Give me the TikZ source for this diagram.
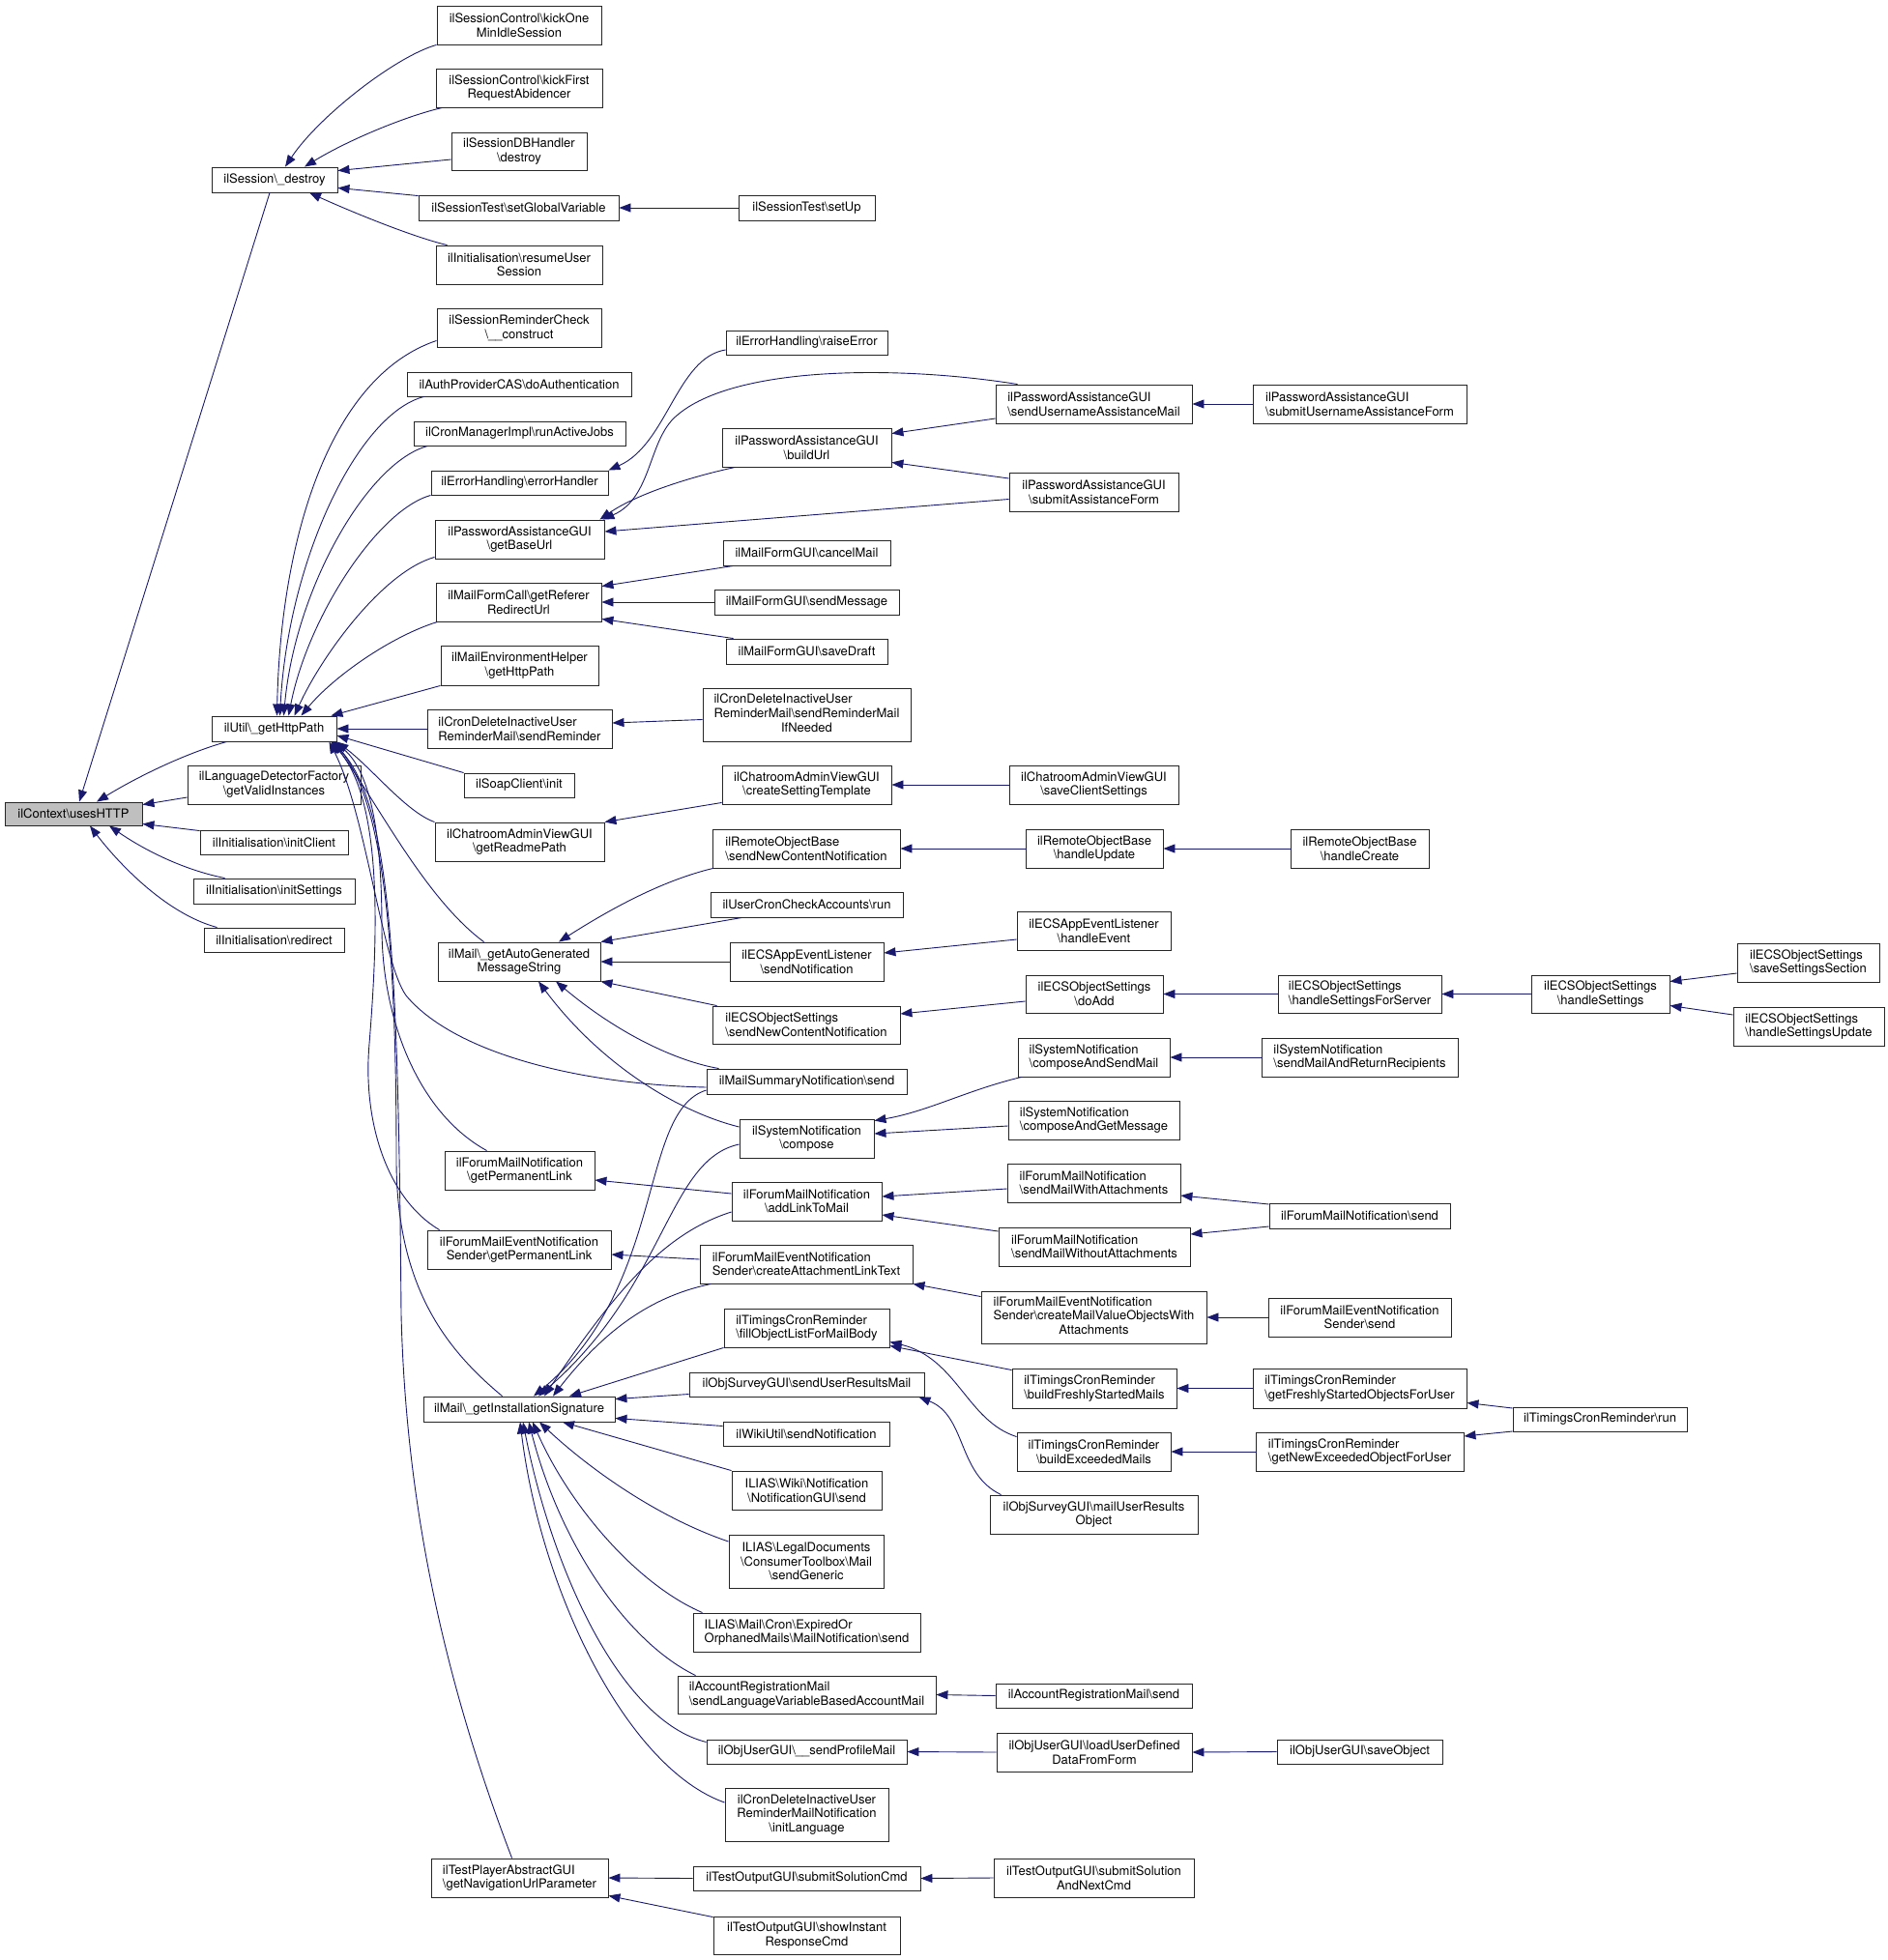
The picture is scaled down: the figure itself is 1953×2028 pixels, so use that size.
\documentclass[tikz,border=0pt]{standalone}
\usepackage{fontspec}
\setmainfont{TeX Gyre Heros}
\usetikzlibrary{arrows.meta,calc}
\definecolor{edgeblue}{HTML}{191970}
\definecolor{ctxgray}{HTML}{BFBFBF}
\newcommand\BS{\textbackslash}
\newcommand\nd[7]{%
  \pgfmathsetmacro\ndw{#4-#2}%
  \pgfmathsetmacro\ndh{#5-#3}%
  \pgfmathsetmacro\ndx{(#2+#4)/2}%
  \pgfmathsetmacro\ndy{(#3+#5)/2}%
  \node[bx,minimum width=\ndw pt,minimum height=\ndh pt,align=#6] (#1) at (\ndx,\ndy) {#7};%
}
\begin{document}
\begin{tikzpicture}[x=1pt,y=-1pt,
  bx/.style={draw=black!85,line width=0.9pt,rectangle,inner sep=0pt,fill=white,text=black,font=\fontsize{13}{14.7}\selectfont},
  e/.style={draw=edgeblue,line width=0.9pt,-{Triangle[length=12pt,width=9pt]}}]
\useasboundingbox (0,0) rectangle (1953,2028);
\fill[white] (0,0) rectangle (1953,2028);
% column 0/1
\nd{ctx}{5}{830}{147}{854}{center,fill=ctxgray}{ilContext\BS usesHTTP}
\nd{sd}{219}{173}{349}{199}{center}{ilSession\BS\_destroy}
\nd{hp}{219}{741}{348}{767}{center}{ilUtil\BS\_getHttpPath}
\nd{ldf}{194}{792}{373}{832}{center}{ilLanguageDetectorFactory\\\BS getValidInstances}
\nd{ic}{207}{859}{360}{884}{center}{ilInitialisation\BS initClient}
\nd{is}{200}{909}{367}{935}{center}{ilInitialisation\BS initSettings}
\nd{rd}{211}{960}{356}{985}{center}{ilInitialisation\BS redirect}
% column 2
\nd{k1}{452}{6}{622}{46}{center}{ilSessionControl\BS kickOne\\MinIdleSession}
\nd{k2}{451}{71}{623}{111}{center}{ilSessionControl\BS kickFirst\\RequestAbidencer}
\nd{dbh}{467}{137}{607}{176}{center}{ilSessionDBHandler\\\BS destroy}
\nd{sgv}{433}{202}{640}{228}{center}{ilSessionTest\BS setGlobalVariable}
\nd{rus}{451}{254}{623}{294}{center}{ilInitialisation\BS resumeUser\\Session}
\nd{src}{452}{319}{622}{359}{center}{ilSessionReminderCheck\\\BS\_\_construct}
\nd{cas}{421}{385}{653}{410}{center}{ilAuthProviderCAS\BS doAuthentication}
\nd{cmi}{428}{436}{647}{461}{center}{ilCronManagerImpl\BS runActiveJobs}
\nd{ehe}{446}{487}{629}{512}{center}{ilErrorHandling\BS errorHandler}
\nd{gbu}{450}{538}{625}{578}{center}{ilPasswordAssistanceGUI\\\BS getBaseUrl}
\nd{grr}{451}{603}{622}{643}{center}{ilMailFormCall\BS getReferer\\RedirectUrl}
\nd{meh}{456}{668}{619}{709}{center}{ilMailEnvironmentHelper\\\BS getHttpPath}
\nd{cdr}{442}{734}{633}{774}{left}{ilCronDeleteInactiveUser\\ReminderMail\BS sendReminder}
\nd{soap}{480}{800}{594}{825}{center}{ilSoapClient\BS init}
\nd{grp}{450}{851}{625}{891}{center}{ilChatroomAdminViewGUI\\\BS getReadmePath}
\nd{agm}{453}{975}{621}{1015}{center}{ilMail\BS\_getAutoGenerated\\MessageString}
\nd{fpl}{460}{1191}{615}{1231}{center}{ilForumMailNotification\\\BS getPermanentLink}
\nd{epl}{442}{1273}{632}{1313}{center}{ilForumMailEventNotification\\Sender\BS getPermanentLink}
\nd{gis}{438}{1445}{636}{1471}{center}{ilMail\BS\_getInstallationSignature}
\nd{tpa}{446}{1923}{629}{1963}{left}{ilTestPlayerAbstractGUI\\\BS getNavigationUrlParameter}
% column 3
\nd{sup}{764}{202}{905}{228}{center}{ilSessionTest\BS setUp}
\nd{rae}{751}{342}{918}{367}{center}{ilErrorHandling\BS raiseError}
\nd{bu}{747}{443}{922}{483}{center}{ilPasswordAssistanceGUI\\\BS buildUrl}
\nd{cm}{748}{559}{921}{585}{center}{ilMailFormGUI\BS cancelMail}
\nd{sm}{739}{610}{930}{636}{center}{ilMailFormGUI\BS sendMessage}
\nd{sdr}{751}{661}{918}{687}{center}{ilMailFormGUI\BS saveDraft}
\nd{srm}{727}{712}{942}{767}{center}{\begin{tabular}{@{}l@{}}ilCronDeleteInactiveUser\\ReminderMail\BS sendReminderMail\\\multicolumn{1}{@{}c@{}}{IfNeeded}\end{tabular}}
\nd{cst}{747}{792}{922}{832}{center}{ilChatroomAdminViewGUI\\\BS createSettingTemplate}
\nd{rsn}{737}{858}{931}{898}{left}{ilRemoteObjectBase\\\BS sendNewContentNotification}
\nd{uca}{735}{923}{934}{949}{center}{ilUserCronCheckAccounts\BS run}
\nd{esn}{755}{975}{914}{1015}{center}{ilECSAppEventListener\\\BS sendNotification}
\nd{osn}{737}{1041}{931}{1080}{left}{ilECSObjectSettings\\\BS sendNewContentNotification}
\nd{msn}{731}{1106}{938}{1132}{center}{ilMailSummaryNotification\BS send}
\nd{snc}{765}{1158}{904}{1198}{center}{ilSystemNotification\\\BS compose}
\nd{alm}{757}{1223}{912}{1263}{center}{ilForumMailNotification\\\BS addLinkToMail}
\nd{cal}{724}{1288}{944}{1328}{left}{ilForumMailEventNotification\\Sender\BS createAttachmentLinkText}
\nd{fol}{749}{1354}{920}{1394}{left}{ilTimingsCronReminder\\\BS fillObjectListForMailBody}
\nd{surm}{713}{1420}{956}{1445}{center}{ilObjSurveyGUI\BS sendUserResultsMail}
\nd{wun}{748}{1471}{920}{1496}{center}{ilWikiUtil\BS sendNotification}
\nd{wng}{757}{1522}{912}{1562}{center}{ILIAS\BS Wiki\BS Notification\\\BS NotificationGUI\BS send}
\nd{ldg}{754}{1588}{914}{1643}{center}{ILIAS\BS LegalDocuments\\\BS ConsumerToolbox\BS Mail\\\BS sendGeneric}
\nd{eom}{717}{1669}{952}{1709}{left}{ILIAS\BS Mail\BS Cron\BS ExpiredOr\\OrphanedMails\BS MailNotification\BS send}
\nd{arm}{701}{1734}{968}{1773}{left}{ilAccountRegistrationMail\\\BS sendLanguageVariableBasedAccountMail}
\nd{spm}{731}{1800}{938}{1825}{center}{ilObjUserGUI\BS\_\_sendProfileMail}
\nd{ilg}{750}{1850}{919}{1905}{center}{ilCronDeleteInactiveUser\\ReminderMailNotification\\\BS initLanguage}
\nd{ssc}{717}{1931}{952}{1956}{center}{ilTestOutputGUI\BS submitSolutionCmd}
\nd{sir}{738}{1983}{931}{2022}{center}{ilTestOutputGUI\BS showInstant\\ResponseCmd}
% column 4
\nd{sum}{1030}{398}{1233}{438}{left}{ilPasswordAssistanceGUI\\\BS sendUsernameAssistanceMail}
\nd{saf}{1044}{489}{1219}{529}{center}{ilPasswordAssistanceGUI\\\BS submitAssistanceForm}
\nd{scs}{1044}{792}{1219}{832}{center}{ilChatroomAdminViewGUI\\\BS saveClientSettings}
\nd{rhu}{1061}{858}{1203}{898}{center}{ilRemoteObjectBase\\\BS handleUpdate}
\nd{ahe}{1052}{943}{1211}{983}{center}{ilECSAppEventListener\\\BS handleEvent}
\nd{oda}{1061}{1009}{1203}{1048}{center}{ilECSObjectSettings\\\BS doAdd}
\nd{csm}{1053}{1074}{1210}{1114}{left}{ilSystemNotification\\\BS composeAndSendMail}
\nd{cgm}{1043}{1139}{1220}{1179}{left}{ilSystemNotification\\\BS composeAndGetMessage}
\nd{mwa}{1042}{1204}{1221}{1244}{left}{ilForumMailNotification\\\BS sendMailWithAttachments}
\nd{mwo}{1033}{1270}{1231}{1310}{left}{ilForumMailNotification\\\BS sendMailWithoutAttachments}
\nd{cmv}{1015}{1336}{1248}{1390}{center}{\begin{tabular}{@{}l@{}}ilForumMailEventNotification\\Sender\BS createMailValueObjectsWith\\\multicolumn{1}{@{}c@{}}{Attachments}\end{tabular}}
\nd{bfs}{1047}{1416}{1217}{1457}{left}{ilTimingsCronReminder\\\BS buildFreshlyStartedMails}
\nd{bem}{1052}{1482}{1211}{1522}{center}{ilTimingsCronReminder\\\BS buildExceededMails}
\nd{mur}{1024}{1547}{1239}{1587}{center}{ilObjSurveyGUI\BS mailUserResults\\Object}
\nd{ars}{1030}{1742}{1233}{1767}{center}{ilAccountRegistrationMail\BS send}
\nd{lud}{1031}{1793}{1233}{1833}{center}{ilObjUserGUI\BS loadUserDefined\\DataFromForm}
\nd{ssn}{1028}{1923}{1235}{1963}{center}{ilTestOutputGUI\BS submitSolution\\AndNextCmd}
% column 5
\nd{sua}{1296}{398}{1517}{438}{left}{ilPasswordAssistanceGUI\\\BS submitUsernameAssistanceForm}
\nd{rhc}{1335}{858}{1478}{898}{center}{ilRemoteObjectBase\\\BS handleCreate}
\nd{hss}{1322}{1009}{1491}{1048}{left}{ilECSObjectSettings\\\BS handleSettingsForServer}
\nd{smr}{1305}{1074}{1508}{1114}{left}{ilSystemNotification\\\BS sendMailAndReturnRecipients}
\nd{fms}{1313}{1245}{1500}{1271}{center}{ilForumMailNotification\BS send}
\nd{fes}{1312}{1343}{1501}{1383}{center}{ilForumMailEventNotification\\Sender\BS send}
\nd{gfs}{1296}{1416}{1517}{1457}{left}{ilTimingsCronReminder\\\BS getFreshlyStartedObjectsForUser}
\nd{gne}{1299}{1482}{1514}{1522}{left}{ilTimingsCronReminder\\\BS getNewExceededObjectForUser}
\nd{svo}{1321}{1800}{1492}{1825}{center}{ilObjUserGUI\BS saveObject}
% column 6/7
\nd{hs}{1584}{1009}{1727}{1048}{center}{ilECSObjectSettings\\\BS handleSettings}
\nd{run}{1565}{1456}{1745}{1481}{center}{ilTimingsCronReminder\BS run}
\nd{sss}{1797}{976}{1944}{1016}{left}{ilECSObjectSettings\\\BS saveSettingsSection}
\nd{hsu}{1793}{1042}{1949}{1082}{left}{ilECSObjectSettings\\\BS handleSettingsUpdate}

% ---- edges to ilContext
\draw[e] ($(sd.south)+(-5,0)$) -- ($(ctx.north)+(6,0)$);
\draw[e] ($(hp.south west)+(16,0)$) .. controls (190,780) and (140,805) .. ($(ctx.north)+(24,0)$);
\draw[e] ($(ldf.west)+(0,13)$) -- ($(ctx.north east)+(0,3)$);
\draw[e] ($(ic.north west)+(0,1)$) -- ($(ctx.south east)+(0,-2)$);
\draw[e] ($(is.north west)+(33,0)$) .. controls (190,900) and (150,880) .. ($(ctx.south)+(37,0)$);
\draw[e] ($(rd.north west)+(14,0)$) .. controls (170,945) and (120,890) .. ($(ctx.south)+(17,0)$);
% ---- edges to ilSession\_destroy
\draw[e] (k1.south west) .. controls (410,58) and (330,120) .. ($(sd.north)+(11,0)$);
\draw[e] ($(k2.south west)+(7,0)$) .. controls (420,120) and (360,145) .. ($(sd.north)+(31,0)$);
\draw[e] ($(dbh.west)+(0,8.5)$) -- ($(sd.north east)+(0,4)$);
\draw[e] ($(sgv.north west)+(0,1)$) -- ($(sd.south east)+(0,-5)$);
\draw[e] ($(rus.north west)+(12,0)$) .. controls (430,246) and (370,222) .. ($(sd.south)+(36,0)$);
\draw[e] (sup.west) -- (sgv.east);
% ---- edges to ilUtil\_getHttpPath
\draw[e] ($(src.south west)+(0,-7)$) .. controls (340,390) and (290,560) .. ($(hp.north)+(3,0)$);
\draw[e] ($(cas.south west)+(18,0)$) .. controls (370,428) and (298,580) .. ($(hp.north)+(6,0)$);
\draw[e] ($(cmi.south west)+(15,0)$) .. controls (380,478) and (305,610) .. ($(hp.north)+(10,0)$);
\draw[e] (ehe.south west) .. controls (390,528) and (318,640) .. ($(hp.north)+(15,0)$);
\draw[e] ($(gbu.south west)+(0,-2)$) .. controls (395,592) and (332,680) .. ($(hp.north)+(21,0)$);
\draw[e] ($(grr.south west)+(2,0)$) .. controls (405,658) and (345,700) .. ($(hp.north)+(28,0)$);
\draw[e] (meh.south west) -- ($(hp.north east)+(-6,0)$);
\draw[e] (cdr.west) -- (hp.east);
\draw[e] (soap.north west) -- ($(hp.east)+(0,7)$);
\draw[e] (grp.north west) .. controls (420,840) and (385,795) .. (hp.south east);
\draw[e] ($(agm.north west)+(48,0)$) .. controls (440,930) and (390,830) .. ($(hp.south east)+(-4,0)$);
\draw[e] ($(msn.west)+(0,6)$) .. controls (600,1122) and (470,1090) .. (420,1030) .. controls (395,995) and (378,840) .. ($(hp.south east)+(-8,0)$);
\draw[e] ($(fpl.north west)+(44,0)$) .. controls (430,1150) and (395,1050) .. (395,960) .. controls (395,870) and (385,800) .. ($(hp.south east)+(-2,0)$);
\draw[e] ($(epl.north west)+(13,0)$) .. controls (400,1240) and (375,1160) .. (382,1080) .. controls (390,980) and (398,830) .. ($(hp.south east)+(-6,0)$);
\draw[e] ($(gis.north west)+(82,0)$) .. controls (460,1395) and (410,1330) .. (410,1200) .. controls (410,960) and (395,830) .. ($(hp.south east)+(-3,0)$);
\draw[e] ($(tpa.north west)+(84,0)$) .. controls (460,1740) and (420,1560) .. (415,1360) .. controls (412,1000) and (405,830) .. ($(hp.south east)+(-5,0)$);
% ---- password assistance / error handling / mail form
\draw[e] ($(rae.west)+(0,7.5)$) .. controls (700,370) and (690,460) .. (ehe.north east);
\draw[e] ($(sum.north west)+(23,0)$) .. controls (930,378) and (760,378) .. (700,430) .. controls (670,455) and (675,515) .. ($(gbu.north east)+(-2,0)$);
\draw[e] ($(bu.south west)+(14,0)$) .. controls (720,492) and (660,510) .. ($(gbu.north east)+(-5,0)$);
\draw[e] ($(saf.west)+(0,7.5)$) -- ($(gbu.east)+(0,-8)$);
\draw[e] ($(sum.west)+(0,15)$) -- ($(bu.north east)+(0,6)$);
\draw[e] ($(saf.west)+(0,-14)$) -- ($(bu.south east)+(0,-5)$);
\draw[e] (sua.west) -- (sum.east);
\draw[e] ($(cm.south west)+(11,0)$) -- ($(grr.north east)+(0,4)$);
\draw[e] (sm.west) -- (grr.east);
\draw[e] ($(sdr.north west)+(8,0)$) -- ($(grr.south east)+(0,-3)$);
\draw[e] ($(srm.west)+(0,5)$) -- ($(cdr.east)+(0,-6)$);
\draw[e] ($(cst.south west)+(0,-2)$) -- (grp.north east);
\draw[e] (scs.west) -- (cst.east);
% ---- auto generated message string
\draw[e] ($(rsn.south west)+(1,0)$) .. controls (690,910) and (640,935) .. ($(agm.north)+(41,0)$);
\draw[e] ($(uca.south west)+(33,0)$) -- (agm.north east);
\draw[e] (esn.west) -- (agm.east);
\draw[e] ($(osn.north west)+(5,0)$) -- (agm.south east);
\draw[e] ($(msn.north west)+(13,0)$) .. controls (700,1098) and (640,1070) .. ($(agm.south)+(38,0)$);
\draw[e] ($(snc.west)+(0,-12)$) .. controls (700,1150) and (620,1100) .. ($(agm.south)+(20,0)$);
\draw[e] (rhu.west) -- (rsn.east);
\draw[e] (rhc.west) -- (rhu.east);
\draw[e] ($(ahe.west)+(0,9)$) -- ($(esn.east)+(0,-9)$);
\draw[e] ($(oda.west)+(0,7.5)$) -- ($(osn.east)+(0,-11.5)$);
\draw[e] (hss.west) -- (oda.east);
\draw[e] (hs.west) -- (hss.east);
\draw[e] ($(sss.west)+(0,11)$) -- ($(hs.east)+(0,-13)$);
\draw[e] ($(hsu.west)+(0,-12)$) -- ($(hs.east)+(0,12)$);
% ---- system notification / forum
\draw[e] ($(csm.south west)+(4,0)$) .. controls (1000,1128) and (960,1150) .. ($(snc.north east)+(0,2)$);
\draw[e] ($(cgm.west)+(0,6)$) -- ($(snc.east)+(0,-5)$);
\draw[e] (smr.west) -- (csm.east);
\draw[e] ($(alm.west)+(0,-8)$) -- ($(fpl.east)+(0,10)$);
\draw[e] ($(mwa.west)+(0,6)$) -- ($(alm.east)+(0,-5)$);
\draw[e] ($(mwo.west)+(0,-16)$) -- ($(alm.east)+(0,14)$);
\draw[e] ($(fms.west)+(0,-12)$) -- ($(mwa.east)+(0,13)$);
\draw[e] ($(fms.west)+(0,11)$) -- ($(mwo.east)+(0,-13)$);
\draw[e] ($(cal.west)+(0,-5)$) -- ($(epl.east)+(0,5)$);
\draw[e] ($(cmv.north west)+(0,6)$) -- (cal.south east);
\draw[e] (fes.west) -- (cmv.east);
% ---- installation signature
\draw[e] ($(msn.west)+(0,9)$) .. controls (660,1150) and (690,1330) .. ($(gis.north)+(15,0)$);
\draw[e] ($(snc.west)+(0,6)$) .. controls (690,1200) and (690,1330) .. ($(gis.north)+(20,0)$);
\draw[e] ($(alm.west)+(0,11)$) .. controls (690,1275) and (640,1330) .. ($(gis.north)+(26,0)$);
\draw[e] ($(cal.south west)+(12,0)$) .. controls (680,1340) and (630,1370) .. ($(gis.north)+(35,0)$);
\draw[e] (fol.south west) -- ($(gis.north)+(52,0)$);
\draw[e] ($(surm.west)+(0,10)$) -- ($(gis.north east)+(0,3)$);
\draw[e] ($(wun.west)+(0,-8)$) -- ($(gis.south east)+(0,-4)$);
\draw[e] (wng.north west) -- ($(gis.south)+(45,0)$);
\draw[e] ($(ldg.west)+(0,-20.5)$) .. controls (680,1570) and (610,1520) .. ($(gis.south)+(21,0)$);
\draw[e] ($(eom.north west)+(10,0)$) .. controls (660,1640) and (590,1560) .. ($(gis.south)+(14,0)$);
\draw[e] ($(arm.north west)+(19,0)$) .. controls (650,1700) and (580,1600) .. ($(gis.south)+(10,0)$);
\draw[e] ($(spm.west)+(0,-10)$) .. controls (640,1780) and (570,1620) .. ($(gis.south)+(4,0)$);
\draw[e] ($(ilg.west)+(0,-12.5)$) .. controls (650,1830) and (560,1650) .. ($(gis.south)+(1,0)$);
% ---- timings / survey
\draw[e] ($(bfs.north west)+(0,2)$) -- ($(fol.south east)+(0,-2)$);
\draw[e] ($(bem.north west)+(0,5)$) .. controls (1000,1470) and (990,1405) .. ($(fol.south east)+(0,-6)$);
\draw[e] ($(mur.north west)+(12,0)$) .. controls (990,1525) and (1000,1465) .. ($(surm.south east)+(-6,0)$);
\draw[e] (gfs.west) -- (bfs.east);
\draw[e] (gne.west) -- (bem.east);
\draw[e] ($(run.west)+(0,-11.5)$) -- ($(gfs.east)+(0,15)$);
\draw[e] ($(run.west)+(0,12.5)$) -- ($(gne.east)+(0,-16)$);
% ---- account / user / test
\draw[e] (ars.west) -- (arm.east);
\draw[e] (lud.west) -- (spm.east);
\draw[e] (svo.west) -- (lud.east);
\draw[e] (ssc.west) -- (tpa.east);
\draw[e] (ssn.west) -- (ssc.east);
\draw[e] ($(sir.north west)+(0,1)$) -- ($(tpa.south east)+(0,-2)$);
\end{tikzpicture}
\end{document}
